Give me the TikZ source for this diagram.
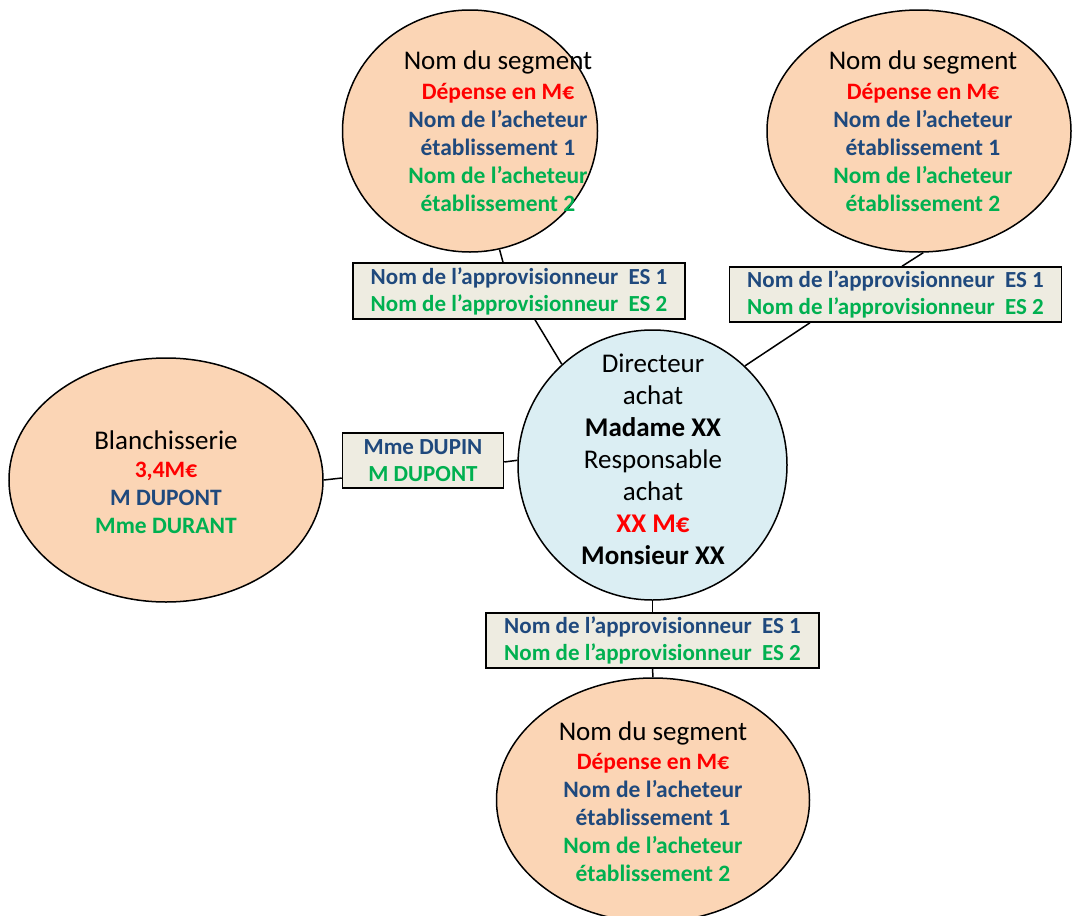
\documentclass[tikz,border=0pt]{standalone}
\usepackage{fontspec}
\setmainfont{Carlito}
\usetikzlibrary{shapes.geometric,calc}
\definecolor{costred}{HTML}{FF0000}
\definecolor{buyerblue}{HTML}{1F497D}
\definecolor{buyergreen}{HTML}{00B050}
\definecolor{peach}{HTML}{FBD5B5}
\definecolor{paleblue}{HTML}{DBEEF3}
\definecolor{boxbg}{HTML}{EEECE1}

% coloured bold lines, set a little smaller than the segment title
\newcommand{\blu}[1]{\textcolor{buyerblue}{\fontsize{23.5}{28}\selectfont\bfseries #1}}
\newcommand{\grn}[1]{\textcolor{buyergreen}{\fontsize{23.5}{28}\selectfont\bfseries #1}}
\newcommand{\rd}[1]{\textcolor{costred}{\fontsize{23.5}{28}\selectfont\bfseries #1}}
% bold lines of the supplier boxes
\newcommand{\bblu}[1]{\textcolor{buyerblue}{\bfseries #1}}
\newcommand{\bgrn}[1]{\textcolor{buyergreen}{\bfseries #1}}

\begin{document}
\begin{tikzpicture}[x=1pt,y=-1pt,
  segment/.style={ellipse, draw=black, line width=1.5pt, fill=peach, inner sep=0pt},
  hub/.style={ellipse, draw=black, line width=1.5pt, fill=paleblue, inner sep=0pt,
    minimum width=269pt, minimum height=270pt},
  supplier/.style={rectangle, draw=black, line width=1.5pt, fill=boxbg, inner sep=0pt,
    align=center, font=\fontsize{23}{27}\selectfont},
  segtext/.style={align=center, font=\fontsize{27}{28}\selectfont},
  hubtext/.style={align=center, font=\fontsize{27}{32}\selectfont},
  link/.style={line width=1.5pt, draw=black}
]
\useasboundingbox (0,0) rectangle (1072,916);
\clip (0,0) rectangle (1072,916);

% segment ellipses
\node[segment, minimum width=255pt, minimum height=242pt] (segA) at (470,131) {};
\node[segment, minimum width=304pt, minimum height=242pt] (segB) at (919,131) {};
\node[segment, minimum width=314pt, minimum height=244pt] (segL) at (166,480) {};
\node[segment, minimum width=313pt, minimum height=244pt] (segC) at (653,800) {};

% central buyer circle
\node[hub] (hub) at (652.5,465) {};

% supplier boxes
\node[supplier, minimum width=332pt, minimum height=56pt] (supA) at (519,291)
  {\bblu{Nom de l’approvisionneur\hspace{0.45em}ES 1}\\ \bgrn{Nom de l’approvisionneur\hspace{0.45em}ES 2}};
\node[supplier, minimum width=332pt, minimum height=55pt] (supB) at (895.5,294.5)
  {\bblu{Nom de l’approvisionneur\hspace{0.45em}ES 1}\\ \bgrn{Nom de l’approvisionneur\hspace{0.45em}ES 2}};
\node[supplier, minimum width=161pt, minimum height=55pt] (supL) at (423,460.5)
  {\bblu{Mme DUPIN}\\ \bgrn{M DUPONT}};
\node[supplier, minimum width=333pt, minimum height=55pt] (supC) at (652.5,640.5)
  {\bblu{Nom de l’approvisionneur\hspace{0.45em}ES 1}\\ \bgrn{Nom de l’approvisionneur\hspace{0.45em}ES 2}};

% texts of the ellipses
\node[segtext] (txtA) at (498,131) {Nom du segment\\[2pt] \rd{Dépense en M€}\\ \blu{Nom de l’acheteur}\\ \blu{établissement 1}\\ \grn{Nom de l’acheteur}\\ \grn{établissement 2}};
\node[segtext] (txtB) at (923,131) {Nom du segment\\[2pt] \rd{Dépense en M€}\\ \blu{Nom de l’acheteur}\\ \blu{établissement 1}\\ \grn{Nom de l’acheteur}\\ \grn{établissement 2}};
\node[segtext] (txtC) at (653,802) {Nom du segment\\[1pt] \rd{Dépense en M€}\\ \blu{Nom de l’acheteur}\\ \blu{établissement 1}\\ \grn{Nom de l’acheteur}\\ \grn{établissement 2}};
\node[segtext] (txtL) at (166,482) {Blanchisserie\\ \rd{3,4M€}\\ \blu{M DUPONT}\\ \grn{Mme DURANT}};
\node[hubtext] (txtH) at (653,459) {Directeur\\ achat\\ \textbf{Madame XX}\\ Responsable\\ achat\\ \textcolor{costred}{\bfseries XX M€}\\ \textbf{Monsieur XX}};

% connectors
\draw[link] (segA.-76.5) -- ([xshift=-16pt]supA.north);
\draw[link] ([xshift=16pt]supA.south) -- (hub.132.5);
\draw[link] (segB.-88.5) -- ([xshift=6.5pt]supB.north);
\draw[link] ([xshift=-85.5pt]supB.south) -- (hub.47.7);
\draw[link] (segL.-0.5) -- ([yshift=-17.5pt]supL.west);
\draw[link] ([yshift=-1.5pt]supL.east) -- (hub.178.3);
\draw[link] (hub.south) -- (supC.north);
\draw[link] (supC.south) -- (segC.north);
\end{tikzpicture}
\end{document}
